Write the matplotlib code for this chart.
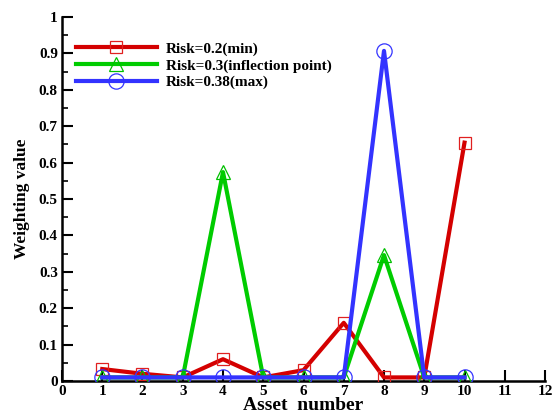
import matplotlib
matplotlib.use("Agg")
import matplotlib.pyplot as plt
from matplotlib.ticker import MultipleLocator

assets = [1, 2, 3, 4, 5, 6, 7, 8, 9, 10]
risk_min = [0.033, 0.02, 0.01, 0.06, 0.01, 0.03, 0.16, 0.01, 0.01, 0.655]
risk_infl = [0.01, 0.01, 0.01, 0.574, 0.01, 0.01, 0.01, 0.346, 0.01, 0.01]
risk_max = [0.01, 0.01, 0.01, 0.01, 0.01, 0.01, 0.01, 0.907, 0.01, 0.01]
labels = ["Risk=0.2(min)", "Risk=0.3(inflection point)", "Risk=0.38(max)"]

plt.rcParams['font.family'] = ['Liberation Serif', 'DejaVu Serif']
plt.rcParams['font.weight'] = 'bold'

fig = plt.figure(figsize=(5.55, 4.16), dpi=100)
ax = fig.add_axes([0.1117, 0.084, 0.8703, 0.875])

ax.plot(assets, risk_min, color='#d40000', lw=3, marker='s', ms=9, mfc='none', mec='#e02020', mew=0.9, label=labels[0], zorder=3)
ax.plot(assets, risk_infl, color='#00cc00', lw=3, marker='^', ms=10, mfc='none', mec='#00c000', mew=0.9, label=labels[1], zorder=4)
ax.plot(assets, risk_max, color='#3333ff', lw=3, marker='o', ms=11, mfc='none', mec='#3333ff', mew=0.9, label=labels[2], zorder=5)

ax.set_xlim(0, 12)
ax.set_ylim(0, 1)
ax.xaxis.set_major_locator(MultipleLocator(1))
ax.yaxis.set_minor_locator(MultipleLocator(0.05))
ax.set_yticks([0, 0.1, 0.2, 0.3, 0.4, 0.5, 0.6, 0.7, 0.8, 0.9, 1])
ax.set_yticklabels(['0', '0.1', '0.2', '0.3', '0.4', '0.5', '0.6', '0.7', '0.8', '0.9', '1'])
ax.tick_params(axis='both', which='major', direction='in', length=8, width=1.5, labelsize=11, pad=3, zorder=10)
ax.tick_params(axis='y', which='minor', direction='in', length=4, width=1.2)
for lab in ax.get_xticklabels() + ax.get_yticklabels():
    lab.set_fontweight('bold')

ax.spines['top'].set_visible(False)
ax.spines['right'].set_visible(False)
ax.spines['left'].set_linewidth(1.8)
ax.spines['bottom'].set_linewidth(1.8)

ax.set_xlabel('Asset  number', fontsize=14, fontweight='bold', labelpad=-1)
ax.set_ylabel('Weighting value', fontsize=12.5, fontweight='bold', labelpad=6)

leg = ax.legend(loc='upper left', bbox_to_anchor=(0.0, 0.97), frameon=False, fontsize=11,
                handlelength=5.3, handletextpad=0.6, labelspacing=0.2, markerscale=1.0)
for t in leg.get_texts():
    t.set_fontweight('bold')

fig.savefig('out.png', dpi=100)
